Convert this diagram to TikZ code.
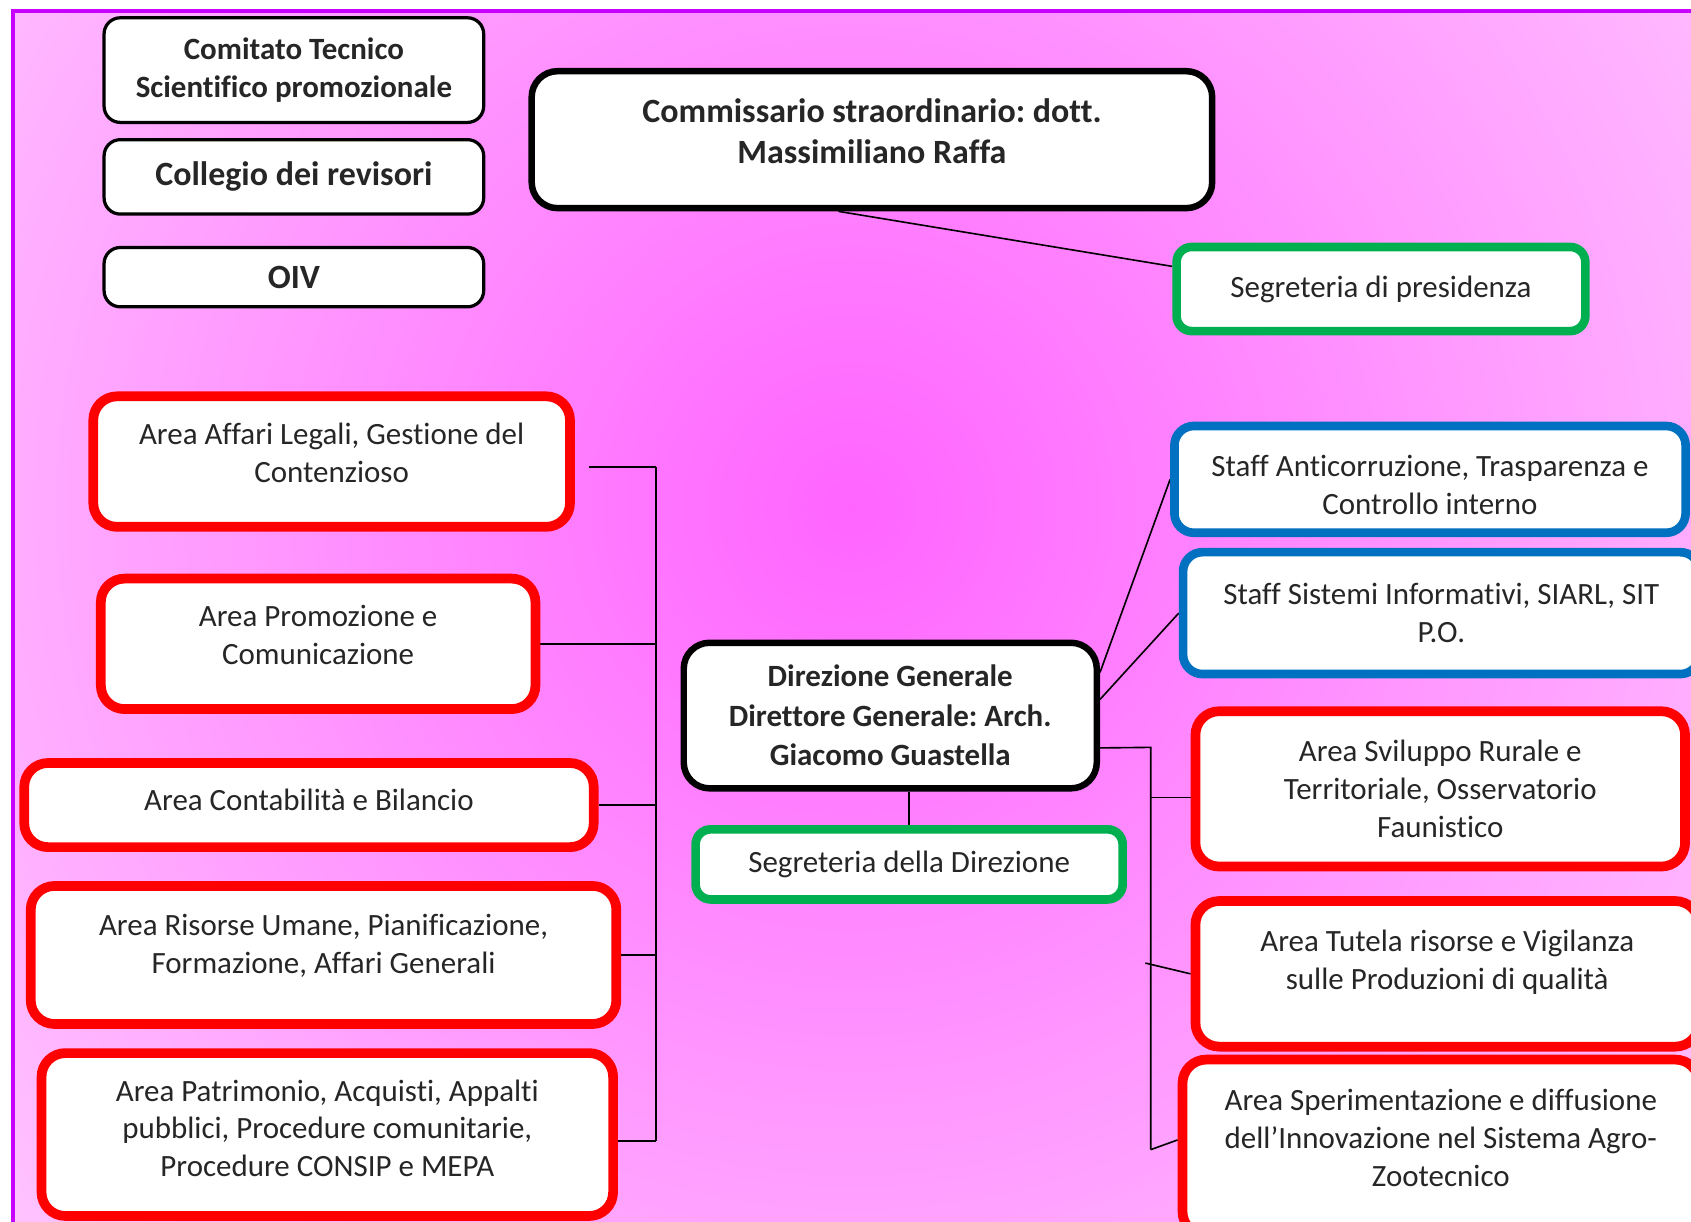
\documentclass[tikz,border=0pt]{standalone}
\usepackage{fontspec}
\setmainfont{Carlito}[Ligatures={TeX,NoCommon}]
\usepackage{tikz}
\frenchspacing
\pgfdeclarelayer{paper}
\pgfdeclarelayer{bg}
\pgfsetlayers{paper,bg,main}

\definecolor{areared}{RGB}{255,0,0}
\definecolor{staffblue}{RGB}{0,112,192}
\definecolor{segrgreen}{RGB}{0,176,80}
\definecolor{framepurple}{RGB}{200,0,255}
\definecolor{pinklight}{RGB}{255,216,255}
\definecolor{pinkdeep}{RGB}{255,100,255}

\tikzset{
  box/.style={draw, fill=white, rounded corners=18pt, align=center, inner sep=0pt,
    text=black!85, font=\fontsize{28.7}{35}\selectfont},
  head/.style={box, line width=3pt, rounded corners=15pt, font=\bfseries\fontsize{28.7}{35}\selectfont},
  big/.style={font=\bfseries\fontsize{31.5}{38}\selectfont},
  chief/.style={box, line width=6pt, rounded corners=24pt, font=\bfseries\fontsize{28.7}{36.5}\selectfont},
  area/.style={box, draw=areared, line width=9pt, rounded corners=22pt},
  staff/.style={box, draw=staffblue, line width=8pt},
  segr/.style={box, draw=segrgreen, line width=8pt, rounded corners=14pt},
  lift/.style={text depth=#1},
  link/.style={line width=1.5pt, black}
}

\begin{document}
\begin{tikzpicture}
        \useasboundingbox (0pt,0pt) rectangle (1568pt,-1133pt);
        \begin{pgfonlayer}{paper}
                \begin{scope}
                        \clip (12pt,-10pt) rectangle (1620pt,-1180pt);
                        \shade[inner color=pinkdeep, outer color=pinklight] (790pt,-470pt) circle (1250pt);
                \end{scope}
                \draw[framepurple, line width=4pt] (1620pt,-10pt) -- (12pt,-10pt) -- (12pt,-1180pt);
        \end{pgfonlayer}
        \node (v0) [head, minimum width=352pt, minimum height=97pt] at (272.5pt, -65pt) {Comitato Tecnico\\Scientifico promozionale};
        \node (v1) [head, big, minimum width=352pt, minimum height=69pt] at (272.5pt, -164pt) {Collegio dei revisori};
        \node (v2) [head, big, minimum width=352pt, minimum height=55pt] at (272.5pt, -257pt) {OIV};
        \node (v3) [chief, big, lift=16pt, minimum width=631pt, minimum height=127pt] at (808.5pt, -129.5pt) {Commissario straordinario: dott.\\Massimiliano Raffa};
        \node (v4) [segr, minimum width=379pt, minimum height=78pt] at (1280.5pt, -268pt) {Segreteria di presidenza};
        \node (v5) [area, lift=16pt, minimum width=442pt, minimum height=121pt] at (307.5pt, -428pt) {Area Affari Legali, Gestione del\\Contenzioso};
        \node (v6) [area, lift=17pt, minimum width=403pt, minimum height=121pt] at (295pt, -597pt) {Area Promozione e\\Comunicazione};
        \node (v7) [area, lift=10pt, minimum width=528pt, minimum height=78pt] at (286.5pt, -746.5pt) {Area Contabilità e Bilancio};
        \node (v8) [area, lift=20pt, minimum width=543pt, minimum height=128pt] at (300pt, -885.5pt) {Area Risorse Umane, Pianificazione,\\Formazione, Affari Generali};
        \node (v9) [area, lift=12pt, minimum width=530pt, minimum height=151pt] at (303.5pt, -1052pt) {Area Patrimonio, Acquisti, Appalti\\pubblici, Procedure comunitarie,\\Procedure CONSIP e MEPA};
        \node (v10) [chief, minimum width=383pt, minimum height=135pt] at (825.5pt, -663.5pt) {Direzione Generale\\Direttore Generale: Arch.\\Giacomo Guastella};
        \node (v11) [segr, minimum width=396pt, minimum height=65pt] at (843pt, -801.5pt) {Segreteria della Direzione};
        \node (v12) [staff, text height=65pt, minimum width=474pt, minimum height=99pt] at (1326pt, -444.5pt) {Staff Anticorruzione, Trasparenza e\\Controllo interno};
        \node (v13) [staff, minimum width=479pt, minimum height=113pt] at (1336.5pt, -568.5pt) {Staff Sistemi Informativi, SIARL, SIT\\P.O.};
        \node (v14) [area, minimum width=454pt, minimum height=144pt] at (1335.5pt, -731.5pt) {Area Sviluppo Rurale e\\Territoriale, Osservatorio\\Faunistico};
        \node (v15) [area, lift=26pt, minimum width=467pt, minimum height=135pt] at (1342pt, -903pt) {Area Tutela risorse e Vigilanza\\sulle Produzioni di qualità};
        \node (v16) [area, lift=18pt, minimum width=479pt, minimum height=163pt] at (1336pt, -1064pt) {Area Sperimentazione e diffusione\\dell’Innovazione nel Sistema Agro-\\Zootecnico};
        \coordinate (l0) at (608pt, -433pt);
        \coordinate (l1) at (608pt, -1058pt);
        \coordinate (r0) at (1067pt, -693pt);
        \coordinate (r1) at (1067pt, -1066pt);
        \coordinate (r2) at (1062pt, -893pt);
        \begin{pgfonlayer}{bg}
                \draw[link] (v3.south) ++(-31pt,0pt) -- ([yshift=21pt]v4.west);
                \draw[link] (l0) -- (l1);
                \draw[link] (v5.east) ++(13pt,-5pt) -- (l0);
                \draw[link] (v6.east) -- (v6.east -| l0);
                \draw[link] (v7.east) -- (v7.east -| l0);
                \draw[link] (v8.east) -- (v8.east -| l0);
                \draw[link] (l1) -- (l1 -| v9.east);
                \draw[link] (v11.north) -- (v11.north |- v10.south);
                \draw[link] (v10.east) ++(0pt,40pt) -- (v12.west);
                \draw[link] (v10.east) ++(0pt,15pt) -- (v13.west);
                \draw[link] (v10.east) ++(0pt,-30pt) -- (r0) -- (r1);
                \draw[link] (v14.west) ++(0pt,-8pt) coordinate (s14) -- (s14 -| r0);
                \draw[link] (r2) -- (v15.west);
                \draw[link] (r1) -- ([yshift=7pt]v16.west);
        \end{pgfonlayer}
\end{tikzpicture}
\end{document}
